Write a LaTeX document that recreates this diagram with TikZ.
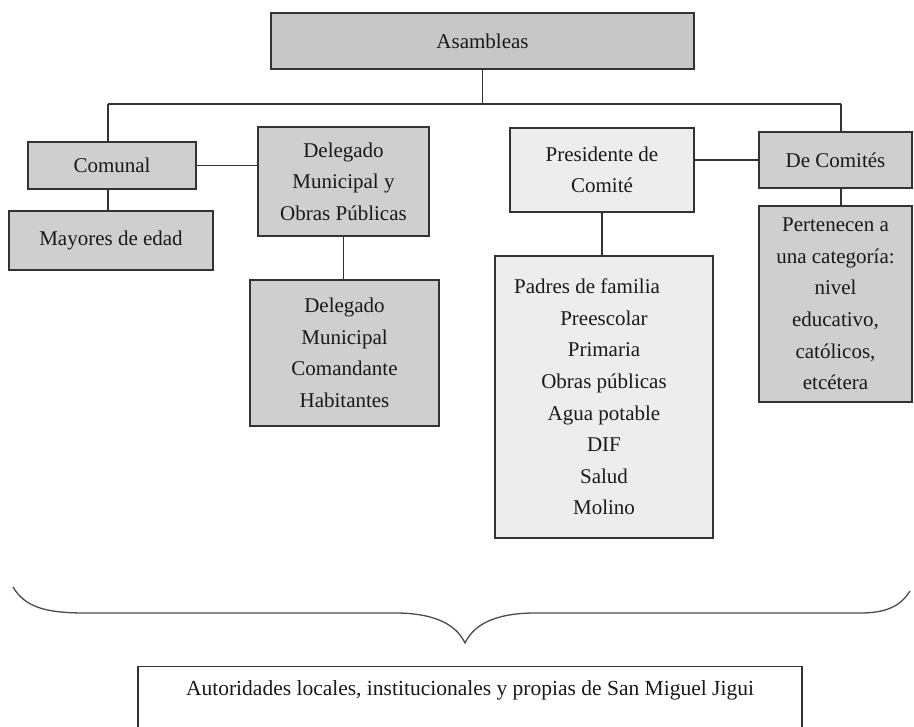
\documentclass[tikz,border=0pt]{standalone}
\usepackage{fontspec}
\setmainfont{Liberation Serif}
\begin{document}
\begin{tikzpicture}[x=1pt,y=-1pt,
  font=\fontsize{21}{31.6}\selectfont,
  every node/.style={text=black!90},
  box/.style={draw=black!80, line width=1.3pt, inner sep=0pt, align=center, rectangle},
  dark/.style={box, fill=black!22},
  mid/.style={box, fill=black!19},
  light/.style={box, fill=black!7},
  conn/.style={draw=black!80, line width=1.3pt}]
\clip (0,0) rectangle (914,727);
\fill[white] (0,0) rectangle (914,727);

\node[dark, minimum width=423pt, minimum height=56pt] (asam) at (482.5,41) {Asambleas};
\node[mid, minimum width=168pt, minimum height=47pt] (comunal) at (112,165.5) {Comunal};
\node[mid, minimum width=204pt, minimum height=59pt] (mayores) at (111,240.5) {Mayores de edad};
\node[mid, minimum width=171pt, minimum height=109pt] (dmop) at (343.5,181.5) {Delegado\\Municipal y\\Obras Públicas};
\node[mid, minimum width=189pt, minimum height=146pt] (dmch) at (344.5,353) {Delegado\\Municipal\\Comandante\\Habitantes};
\node[light, minimum width=184pt, minimum height=84pt] (pres) at (602,170) {Presidente de\\Comité};
\node[mid, minimum width=153pt, minimum height=56pt] (decom) at (835.5,160) {De Comités};
\node[mid, minimum width=153pt, minimum height=196pt] (pert) at (835.5,304) {Pertenecen a\\una categoría:\\nivel\\educativo,\\católicos,\\etcétera};
\node[light, minimum width=218pt, minimum height=282pt] (padres) at (604,397) {Padres de familia\hspace*{34pt}\\Preescolar\\Primaria\\Obras públicas\\Agua potable\\DIF\\Salud\\Molino};

\node[box, fill=white, minimum width=664pt, minimum height=110pt, anchor=north] (aut) at (470,666) {};
\node[inner sep=0pt, font=\fontsize{21.5}{26}\selectfont] (auttext) at (470,690) {Autoridades locales, institucionales y propias de San Miguel Jigui};

\coordinate (busL) at (108,104);
\coordinate (busR) at (841,104);

\draw[conn] (busL) -- (busR);
\draw[conn] (asam.south) -- (asam.south |- busL);
\draw[conn] (busL) -- (busL |- comunal.north);
\draw[conn] (busL |- comunal.south) -- (busL |- mayores.north);
\draw[conn] (comunal.east) -- (comunal.east -| dmop.west);
\draw[conn] (dmop.south) -- (dmop.south |- dmch.north);
\draw[conn] (busR) -- (busR |- decom.north);
\draw[conn] (busR |- decom.south) -- (busR |- pert.north);
\draw[conn] (decom.west) -- (decom.west -| pres.east);
\draw[conn] (pres.south) -- (pres.south |- padres.north);

\coordinate (brL) at (13,587);
\coordinate (brTip) at (465,643);
\coordinate (brR) at (910,591);
\draw[draw=black!70, line width=1.3pt]
  (brL) .. controls (25,607) and (45,613) .. (85,613)
  -- (395,613) .. controls (430,613) and (455,622) .. (brTip)
  .. controls (475,622) and (500,613) .. (535,613)
  -- (860,613) .. controls (885,613) and (900,607) .. (brR);
\end{tikzpicture}
\end{document}
